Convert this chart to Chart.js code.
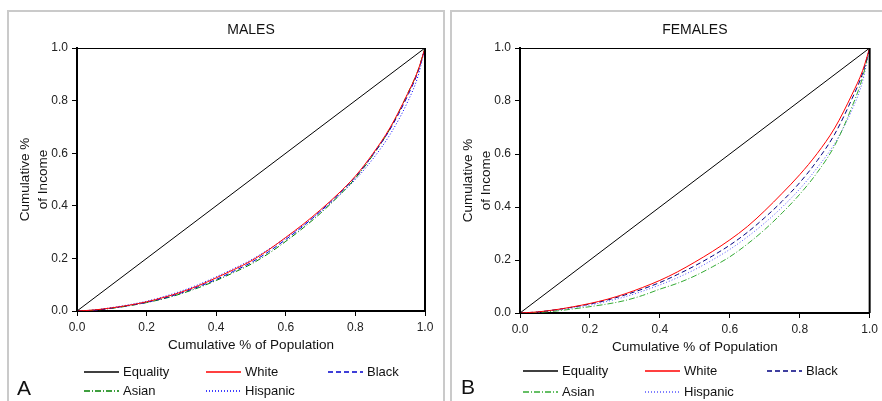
<!DOCTYPE html>
<html>
<head>
<meta charset="utf-8">
<script src="https://cdn.jsdelivr.net/npm/chart.js"></script>
<style>
html, body { margin: 0; padding: 0; background: #fff; overflow: hidden; }
body { width: 882px; height: 401px; position: relative; }
.panel { position: absolute; top: 10px; height: 400px; border: 2px solid #cacaca; box-sizing: border-box; pointer-events: none; }
#panelA { left: 7px; width: 438px; }
#panelB { left: 450px; width: 440px; }
canvas { position: absolute; top: 0; }
#males { left: 0; }
#females { left: 446px; }
</style>
</head>
<body>
<div class="panel" id="panelA"></div>
<div class="panel" id="panelB"></div>
<canvas id="males" width="444" height="401"></canvas>
<canvas id="females" width="436" height="401"></canvas>
<script>
// cumulative share of population (x)
const popShare = [0, 0.05, 0.1, 0.15, 0.2, 0.25, 0.3, 0.35, 0.4, 0.45, 0.5, 0.55, 0.6, 0.65, 0.7, 0.75, 0.8, 0.85, 0.9, 0.95, 0.98, 1.0];
const equalityX = [0, 1];
const equalityY = [0, 1];

const seriesNames = ['Equality', 'White', 'Black', 'Asian', 'Hispanic'];
const tickLabels = ['0.0', '0.2', '0.4', '0.6', '0.8', '1.0'];

// MALES - cumulative share of income
const maleWhite    = [0, 0.004, 0.012, 0.022, 0.035, 0.052, 0.072, 0.097, 0.126, 0.157, 0.190, 0.232, 0.280, 0.330, 0.385, 0.445, 0.513, 0.598, 0.698, 0.826, 0.915, 1.0];
const maleBlack    = [0, 0.003, 0.011, 0.021, 0.033, 0.049, 0.069, 0.093, 0.120, 0.151, 0.184, 0.225, 0.272, 0.323, 0.380, 0.442, 0.510, 0.594, 0.692, 0.818, 0.910, 1.0];
const maleAsian    = [0, 0.003, 0.010, 0.020, 0.032, 0.047, 0.066, 0.089, 0.116, 0.146, 0.178, 0.218, 0.265, 0.316, 0.372, 0.435, 0.505, 0.592, 0.694, 0.826, 0.915, 1.0];
const maleHispanic = [0, 0.004, 0.013, 0.024, 0.037, 0.055, 0.076, 0.101, 0.130, 0.161, 0.194, 0.234, 0.278, 0.326, 0.378, 0.436, 0.500, 0.578, 0.672, 0.795, 0.893, 1.0];

// FEMALES - cumulative share of income
const femaleWhite    = [0, 0.004, 0.012, 0.023, 0.036, 0.052, 0.072, 0.096, 0.123, 0.155, 0.192, 0.232, 0.276, 0.326, 0.386, 0.452, 0.522, 0.602, 0.698, 0.826, 0.915, 1.0];
const femaleBlack    = [0, 0.004, 0.012, 0.022, 0.034, 0.049, 0.068, 0.090, 0.115, 0.145, 0.178, 0.215, 0.256, 0.304, 0.360, 0.422, 0.492, 0.575, 0.675, 0.810, 0.905, 1.0];
const femaleAsian    = [0, 0.002, 0.007, 0.015, 0.024, 0.034, 0.047, 0.066, 0.090, 0.112, 0.140, 0.174, 0.212, 0.260, 0.315, 0.378, 0.448, 0.530, 0.632, 0.780, 0.890, 1.0];
const femaleHispanic = [0, 0.003, 0.010, 0.019, 0.030, 0.044, 0.061, 0.082, 0.106, 0.133, 0.164, 0.200, 0.240, 0.287, 0.340, 0.400, 0.468, 0.548, 0.640, 0.768, 0.875, 1.0];

const FONT = '"Liberation Sans", Arial, sans-serif';

function pts(xs, ys) {
    return xs.map((x, i) => ({ x: x, y: ys[i] }));
}

// draws plot frame, panel title, panel letter and the legend grid
const panelDecor = {
    id: 'panelDecor',
    afterDraw(chart, args, opts) {
        const ctx = chart.ctx;
        const a = chart.chartArea;
        ctx.save();
        ctx.strokeStyle = '#000';
        ctx.lineWidth = 1;
        ctx.beginPath();
        ctx.moveTo(a.left, a.top + 0.5);
        ctx.lineTo(a.right, a.top + 0.5);
        ctx.stroke();
        ctx.lineWidth = 2;
        ctx.beginPath();
        ctx.moveTo(a.right, a.top);
        ctx.lineTo(a.right, a.bottom);
        ctx.stroke();

        ctx.fillStyle = '#111';
        ctx.font = '14px ' + FONT;
        ctx.textAlign = 'center';
        ctx.textBaseline = 'middle';
        ctx.fillText(opts.title, (a.left + a.right) / 2, opts.titleY);

        ctx.font = '21px ' + FONT;
        ctx.textAlign = 'left';
        ctx.textBaseline = 'alphabetic';
        ctx.fillText(opts.letter, opts.letterX, opts.letterY);

        ctx.font = '13px ' + FONT;
        ctx.textBaseline = 'middle';
        chart.data.datasets.forEach((ds, i) => {
            const x = a.left + opts.legendCols[i % 3];
            const y = opts.legendRows[Math.floor(i / 3)];
            ctx.strokeStyle = ds.borderColor;
            ctx.lineWidth = 1.5;
            ctx.setLineDash(ds.borderDash || []);
            ctx.beginPath();
            ctx.moveTo(x, y);
            ctx.lineTo(x + 35, y);
            ctx.stroke();
            ctx.setLineDash([]);
            ctx.fillStyle = '#111';
            ctx.fillText(ds.label, x + 39, y);
        });
        ctx.restore();
    }
};

function makeChart(id, series, colors, cfg) {
    const dashes = [[], [], [5, 3], [6, 2, 1, 2], [1, 2]];
    const datasets = seriesNames.map((name, i) => ({
        label: name,
        data: i === 0 ? pts(equalityX, equalityY) : pts(popShare, series[i - 1]),
        borderColor: colors[i],
        borderDash: dashes[i],
        borderWidth: 1,
        pointRadius: 0,
        showLine: true,
        fill: false,
        cubicInterpolationMode: 'monotone'
    }));

    const axisTicks = {
        stepSize: 0.2,
        color: '#222',
        font: { family: FONT, size: 12 },
        padding: 4,
        maxRotation: 0,
        callback: v => tickLabels[Math.round(v * 5)]
    };
    const axisGrid = { drawOnChartArea: false, drawTicks: true, tickLength: 5, color: '#000', lineWidth: 1 };

    return new Chart(document.getElementById(id), {
        type: 'scatter',
        data: { datasets: datasets },
        options: {
            responsive: false,
            animation: false,
            devicePixelRatio: 1,
            layout: { padding: cfg.padding },
            plugins: {
                legend: { display: false },
                tooltip: { enabled: false },
                panelDecor: cfg.decor
            },
            scales: {
                x: {
                    type: 'linear', min: 0, max: 1,
                    ticks: axisTicks,
                    grid: axisGrid,
                    border: { color: '#000', width: 2 },
                    title: { display: true, text: 'Cumulative % of Population', color: '#111',
                             font: { family: FONT, size: 13.5 }, padding: { top: 0, bottom: 8 } },
                    afterFit: s => { s.height = 50; }
                },
                y: {
                    type: 'linear', min: 0, max: 1,
                    ticks: axisTicks,
                    grid: axisGrid,
                    border: { color: '#000', width: 2 },
                    title: { display: true, text: ['Cumulative %', 'of Income'], color: '#111',
                             font: { family: FONT, size: 13.5, lineHeight: 1.35 }, padding: { top: cfg.yTitlePad, bottom: 0 } },
                    afterFit: s => { s.width = cfg.yWidth; }
                }
            }
        },
        plugins: [panelDecor]
    });
}

makeChart('males',
    [maleWhite, maleBlack, maleAsian, maleHispanic],
    ['#000000', '#ff0000', '#0000cc', '#008000', '#0000ff'],
    {
        padding: { left: 0, right: 19, top: 48, bottom: 40 },
        yWidth: 77,
        yTitlePad: 16,
        decor: { title: 'MALES', titleY: 30, letter: 'A', letterX: 17, letterY: 395,
                 legendCols: [7, 129, 251], legendRows: [372, 391] }
    });

makeChart('females',
    [femaleWhite, femaleBlack, femaleAsian, femaleHispanic],
    ['#000000', '#ff0000', '#000080', '#33aa33', '#5555ff'],
    {
        padding: { left: 0, right: 12, top: 48, bottom: 38 },
        yWidth: 74,
        yTitlePad: 13,
        decor: { title: 'FEMALES', titleY: 30, letter: 'B', letterX: 15, letterY: 394,
                 legendCols: [3, 125, 247], legendRows: [371, 392] }
    });
</script>
</body>
</html>
